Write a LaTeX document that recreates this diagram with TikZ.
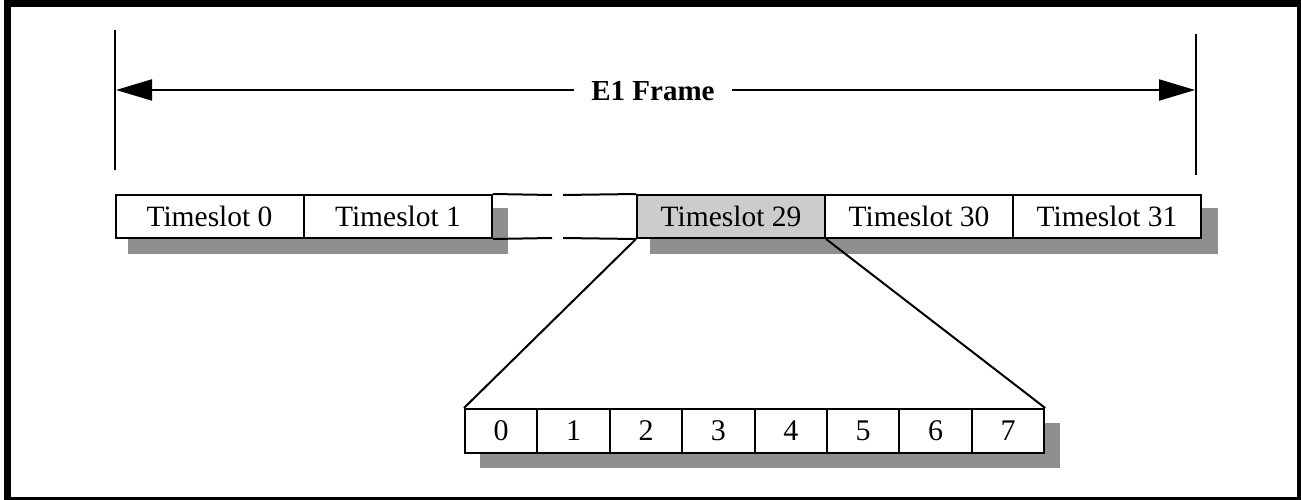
\documentclass[tikz,border=0pt]{standalone}
\usepackage{fontspec}
\setmainfont{Liberation Serif}
\usetikzlibrary{arrows.meta}
\definecolor{shadowgray}{HTML}{8F8F8F}
\definecolor{slotgray}{HTML}{CCCCCC}
\tikzset{
  slotbox/.style={draw=black, line width=2pt, fill=white, rectangle, inner sep=0pt,
    minimum width=188pt, minimum height=43pt, font=\fontsize{29.5}{32}\selectfont},
  bitbox/.style={draw=black, line width=2pt, fill=white, rectangle, inner sep=0pt,
    minimum width=72.4pt, minimum height=44pt, font=\fontsize{30}{32}\selectfont},
  shadowfill/.style={fill=shadowgray, draw=none},
  thinline/.style={draw=black, line width=2pt},
  bigarrow/.style={thinline, -{Triangle[length=36pt, width=21pt]}}
}
\begin{document}
\begin{tikzpicture}[x=1pt, y=-1pt]
\useasboundingbox (0,0) rectangle (1301,500);
\begin{scope}
\clip (0,0) rectangle (1301,500);
\draw[line width=7pt] (7.5,4) rectangle (1300.5,500.5);
\end{scope}

% shadows
\fill[shadowfill] (128,208) rectangle (508,254);
\fill[shadowfill] (650,208) rectangle (1218,254);
\fill[shadowfill] (480,423) rectangle (1060,468);

% frame extent markers
\coordinate (lt) at (115,30);
\coordinate (lb) at (115,170);
\coordinate (rt) at (1196,34);
\coordinate (rb) at (1196,175);
\coordinate (la) at (116,90);
\coordinate (ra) at (1195,90);
\draw[thinline] (lt) -- (lb);
\draw[thinline] (rt) -- (rb);
\node[font=\fontsize{29}{32}\selectfont\bfseries, inner xsep=17pt, inner ysep=0pt] (e1) at (653,91) {E1 Frame};
\draw[bigarrow] (e1.west |- la) -- (la);
\draw[bigarrow] (e1.east |- ra) -- (ra);

% timeslots
\node[slotbox] (ts0) at (209.5,216.5) {Timeslot 0};
\node[slotbox] (ts1) at (398,216.5) {Timeslot 1};
\node[slotbox, fill=slotgray] (ts29) at (731,216.5) {Timeslot 29};
\node[slotbox] (ts30) at (919,216.5) {Timeslot 30};
\node[slotbox] (ts31) at (1107,216.5) {Timeslot 31};

% broken gap
\coordinate (gt1) at (552,195);
\coordinate (gt2) at (563,195);
\coordinate (gb1) at (552,238);
\coordinate (gb2) at (563,238);
\draw[thinline] (ts1.north east) -- (gt1);
\draw[thinline] (gt2) -- (ts29.north west);
\draw[thinline] (ts1.south east) -- (gb1);
\draw[thinline] (gb2) -- (ts29.south west);

% bits
\foreach \i in {0,...,7} {
  \node[bitbox] (b\i) at ({501.2+72.4*\i},431) {\i};
}

% expansion lines
\draw[thinline] (ts29.south west) -- (b0.north west);
\draw[thinline] (ts29.south east) -- (b7.north east);
\end{tikzpicture}
\end{document}
